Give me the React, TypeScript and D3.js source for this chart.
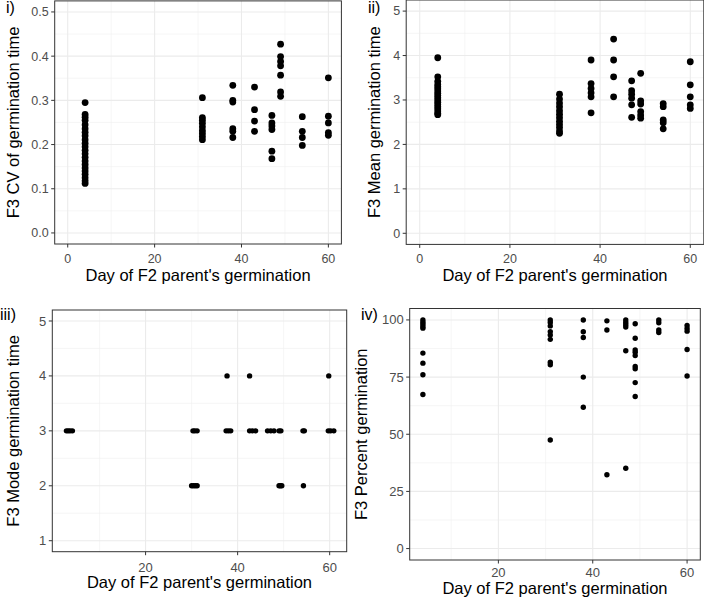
import React from "react";
import * as d3 from "d3";

// ---------------- DATA ----------------
const parentDays = [4, 31, 38, 43, 47, 49, 54, 60];

// Panel i: F3 CV of germination time, grouped by parent day
const cvValues: number[][] = [
  [0.295, 0.268, 0.262, 0.255, 0.245, 0.236, 0.228, 0.22, 0.211, 0.203, 0.195, 0.187, 0.179, 0.171, 0.163, 0.155, 0.147, 0.14, 0.133, 0.125, 0.118, 0.112],
  [0.306, 0.261, 0.255, 0.248, 0.24, 0.232, 0.225, 0.218, 0.211],
  [0.334, 0.3, 0.296, 0.236, 0.23, 0.216],
  [0.33, 0.279, 0.253, 0.23],
  [0.266, 0.249, 0.242, 0.234, 0.185, 0.168],
  [0.427, 0.399, 0.388, 0.378, 0.357, 0.319, 0.309],
  [0.263, 0.23, 0.216, 0.198],
  [0.351, 0.264, 0.249, 0.227, 0.221],
];

// Panel ii: F3 Mean germination time
const meanValues: number[][] = [
  [3.95, 3.52, 3.42, 3.35, 3.3, 3.25, 3.2, 3.15, 3.1, 3.05, 3.0, 2.95, 2.9, 2.85, 2.8, 2.75, 2.7, 2.67],
  [3.13, 3.02, 2.93, 2.85, 2.76, 2.68, 2.6, 2.52, 2.45, 2.38, 2.3, 2.25],
  [3.9, 3.37, 3.26, 3.16, 3.07, 2.71],
  [4.37, 3.9, 3.52, 3.07],
  [3.43, 3.21, 3.13, 3.04, 2.89, 2.61],
  [3.6, 2.98, 2.91, 2.74, 2.66, 2.59],
  [2.92, 2.85, 2.55, 2.49, 2.35],
  [3.86, 3.34, 3.07, 2.89, 2.81],
];

// Panel iii: F3 Mode germination time (jittered day positions)
const modeDays = [
  2.8, 3.2, 3.6, 4.1, 30.3, 30.7, 31.2, 37.5, 38.0, 38.5, 42.6, 43.2, 43.9,
  46.5, 47.2, 47.9, 49.0, 49.4, 54.2, 54.5, 59.7, 60.2, 60.9,
  30.0, 30.4, 30.8, 31.2, 49.0, 49.3, 49.6, 54.3,
  37.7, 42.6, 59.8,
];
const modeValues = [
  3, 3, 3, 3, 3, 3, 3, 3, 3, 3, 3, 3, 3,
  3, 3, 3, 3, 3, 3, 3, 3, 3, 3,
  2, 2, 2, 2, 2, 2, 2, 2,
  4, 4, 4,
];

// Panel iv: F3 Percent germination
const percentValues: number[][] = [
  [100, 99.0, 98.1, 97.1, 96.4, 85.5, 81.1, 76.0, 67.4],
  [100, 98.9, 97.4, 94.9, 93.4, 91.5, 81.5, 80.4, 47.5],
  [100, 94.8, 92.3, 75.0, 61.8],
  [99.6, 95.6, 32.3],
  [100, 98.9, 97.9, 96.9, 86.5, 35.1],
  [98.3, 92.0, 86.9, 85.9, 84.4, 79.6, 78.6, 72.6, 66.5],
  [100, 98.8, 95.6, 94.5],
  [97.6, 96.3, 95.1, 87.1, 75.5],
];

const xTitle = "Day of F2 parent's germination";

// ---------------- HELPERS ----------------
type Pt = [number, number];
const flatten = (vals: number[][]): Pt[] =>
  vals.flatMap((col, i) => col.map((v) => [parentDays[i], v] as Pt));

const FONT = "'Liberation Sans', Arial, sans-serif";

interface PanelProps {
  label: string;
  labelX: number;
  labelY: number;
  points: Pt[];
  r: number;
  xDomain: [number, number];
  xRange: [number, number];
  yDomain: [number, number];
  yRange: [number, number];
  xTicks: number[];
  xMinor: number[];
  yTicks: number[];
  yMinor: number[];
  yFmt: (v: number) => string;
  yTitle: string;
  yTitleX: number;
  xTitleY: number;
  xTickY: number;
  tickFont: number;
}

function Panel(p: PanelProps) {
  const x = d3.scaleLinear().domain(p.xDomain).range(p.xRange);
  const y = d3.scaleLinear().domain(p.yDomain).range(p.yRange);
  const [x0, x1] = p.xRange;
  const [y1, y0] = [p.yRange[0], p.yRange[1]]; // y1 bottom, y0 top
  const clipId = "clip-" + p.label.replace(/[^a-z]/g, "");
  return (
    <g>
      <defs>
        <clipPath id={clipId}>
          <rect x={x0} y={y0} width={x1 - x0} height={y1 - y0} />
        </clipPath>
      </defs>
      <rect x={x0} y={y0} width={x1 - x0} height={y1 - y0} fill="#fff" />
      {/* minor grid */}
      {p.xMinor.map((t) => (
        <line key={"xm" + t} x1={x(t)} x2={x(t)} y1={y0} y2={y1} stroke="#F0F0F0" strokeWidth={0.6} />
      ))}
      {p.yMinor.map((t) => (
        <line key={"ym" + t} x1={x0} x2={x1} y1={y(t)} y2={y(t)} stroke="#F0F0F0" strokeWidth={0.6} />
      ))}
      {/* major grid */}
      {p.xTicks.map((t) => (
        <line key={"xg" + t} x1={x(t)} x2={x(t)} y1={y0} y2={y1} stroke="#EBEBEB" strokeWidth={1.1} />
      ))}
      {p.yTicks.map((t) => (
        <line key={"yg" + t} x1={x0} x2={x1} y1={y(t)} y2={y(t)} stroke="#EBEBEB" strokeWidth={1.1} />
      ))}
      <g clipPath={`url(#${clipId})`}>
        {p.points.map(([a, b], i) => (
          <circle key={i} cx={x(a)} cy={y(b)} r={p.r} fill="#000" />
        ))}
      </g>
      <rect x={x0} y={y0} width={x1 - x0} height={y1 - y0} fill="none" stroke="#333" strokeWidth={1} />
      {/* ticks */}
      {p.xTicks.map((t) => (
        <g key={"xt" + t}>
          <line x1={x(t)} x2={x(t)} y1={y1} y2={y1 + 3.5} stroke="#333" strokeWidth={1} />
          <text x={x(t)} y={p.xTickY} textAnchor="middle" fontSize={p.tickFont} fill="#4D4D4D" fontFamily={FONT}>
            {t}
          </text>
        </g>
      ))}
      {p.yTicks.map((t) => (
        <g key={"yt" + t}>
          <line x1={x0 - 3.5} x2={x0} y1={y(t)} y2={y(t)} stroke="#333" strokeWidth={1} />
          <text x={x0 - 6} y={y(t)} dy="0.35em" textAnchor="end" fontSize={p.tickFont} fill="#4D4D4D" fontFamily={FONT}>
            {p.yFmt(t)}
          </text>
        </g>
      ))}
      <text x={(x0 + x1) / 2} y={p.xTitleY} textAnchor="middle" fontSize={16.5} fill="#000" fontFamily={FONT}>
        {xTitle}
      </text>
      <text
        transform={`translate(${p.yTitleX},${(y0 + y1) / 2}) rotate(-90)`}
        textAnchor="middle"
        fontSize={16.5}
        fill="#000"
        fontFamily={FONT}
      >
        {p.yTitle}
      </text>
      <text x={p.labelX} y={p.labelY} fontSize={16} fill="#000" fontFamily={FONT}>
        {p.label}
      </text>
    </g>
  );
}

export default function App() {
  const int = (v: number) => String(v);
  return (
    <svg
      width={704}
      height={602}
      style={{ position: "absolute", left: 0, top: 0, background: "#fff" }}
    >
      <rect width={704} height={602} fill="#fff" />
      <Panel
        label="i)"
        labelX={6}
        labelY={13}
        points={flatten(cvValues)}
        r={3.4}
        xDomain={[-3, 63]}
        xRange={[54.7, 341.4]}
        yDomain={[-0.025, 0.525]}
        yRange={[244, 0.9]}
        xTicks={[0, 20, 40, 60]}
        xMinor={[10, 30, 50]}
        yTicks={[0, 0.1, 0.2, 0.3, 0.4, 0.5]}
        yMinor={[0.05, 0.15, 0.25, 0.35, 0.45]}
        yFmt={(v) => v.toFixed(1)}
        yTitle="F3 CV of germination time"
        yTitleX={19}
        xTitleY={281}
        xTickY={263}
        tickFont={12.5}
      />
      <Panel
        label="ii)"
        labelX={368}
        labelY={13}
        points={flatten(meanValues)}
        r={3.4}
        xDomain={[-3, 63]}
        xRange={[406.2, 703.8]}
        yDomain={[-0.25, 5.25]}
        yRange={[244.4, 0]}
        xTicks={[0, 20, 40, 60]}
        xMinor={[10, 30, 50]}
        yTicks={[0, 1, 2, 3, 4, 5]}
        yMinor={[0.5, 1.5, 2.5, 3.5, 4.5]}
        yFmt={int}
        yTitle="F3 Mean germination time"
        yTitleX={380}
        xTitleY={281}
        xTickY={263}
        tickFont={12.5}
      />
      <Panel
        label="iii)"
        labelX={0}
        labelY={320}
        points={modeDays.map((d, i) => [d, modeValues[i]] as Pt)}
        r={2.7}
        xDomain={[-0.27, 63.7]}
        xRange={[52.3, 346.7]}
        yDomain={[0.8, 5.2]}
        yRange={[551.7, 310]}
        xTicks={[20, 40, 60]}
        xMinor={[10, 30, 50]}
        yTicks={[1, 2, 3, 4, 5]}
        yMinor={[1.5, 2.5, 3.5, 4.5]}
        yFmt={int}
        yTitle="F3 Mode germination time"
        yTitleX={19}
        xTitleY={588}
        xTickY={571.5}
        tickFont={13}
      />
      <Panel
        label="iv)"
        labelX={361}
        labelY={320}
        points={flatten(percentValues)}
        r={2.7}
        xDomain={[1.2, 62.8]}
        xRange={[409.7, 700.3]}
        yDomain={[-5, 105]}
        yRange={[560, 308.5]}
        xTicks={[20, 40, 60]}
        xMinor={[10, 30, 50]}
        yTicks={[0, 25, 50, 75, 100]}
        yMinor={[12.5, 37.5, 62.5, 87.5]}
        yFmt={int}
        yTitle="F3 Percent germination"
        yTitleX={367}
        xTitleY={594}
        xTickY={577}
        tickFont={13}
      />
    </svg>
  );
}
